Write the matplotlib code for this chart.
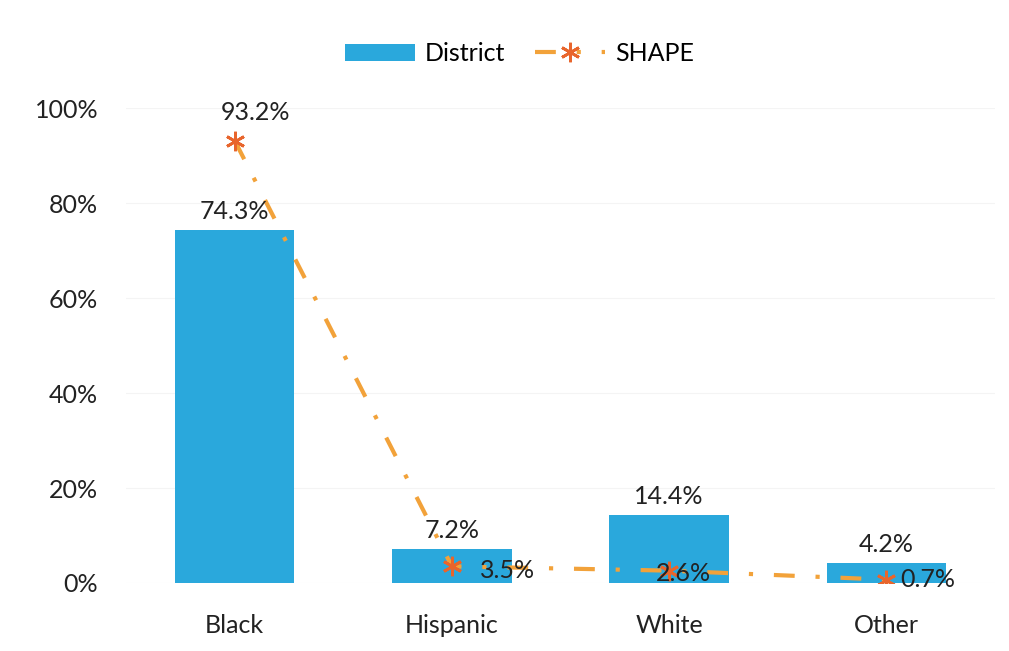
import matplotlib as mpl
mpl.use('Agg')
import matplotlib.pyplot as plt
from matplotlib.ticker import PercentFormatter

categories = ['Black', 'Hispanic', 'White', 'Other']
district = [74.3, 7.2, 14.4, 4.2]
shape = [93.2, 3.5, 2.6, 0.7]

bar_color = '#2aa8dc'
line_color = '#f2a23a'
marker_color = '#e8652c'

plt.rcParams['font.family'] = ['Lato', 'DejaVu Sans']

fig = plt.figure(figsize=(10.09, 6.51), dpi=100)
ax = fig.add_axes([0.125, 0.1045, 0.861, 0.729])

x = list(range(len(categories)))
bars = ax.bar(x, district, width=0.55, color=bar_color, label='District', zorder=2)
line, = ax.plot(x, shape, color=line_color, lw=3, linestyle=(0, (5, 5, 1, 5)),
                marker=(6, 2, 0), markersize=14, markeredgewidth=2,
                markeredgecolor=marker_color, label='SHAPE', zorder=3)

# bar labels
for xi, v in zip(x, district):
    ax.annotate(f'{v}%', (xi, v), xytext=(0, 5), textcoords='offset points',
                ha='center', va='bottom', fontsize=18, color='#222222')

# line labels
offsets = [(15, 12, 'center', 'bottom'), (40, -3, 'center', 'center'),
           (10, -2, 'center', 'center'), (30, 0, 'center', 'center')]
for xi, v, (dx, dy, ha, va) in zip(x, shape, offsets):
    ax.annotate(f'{v}%', (xi, v), xytext=(dx, dy), textcoords='offset points',
                ha=ha, va=va, fontsize=18, color='#222222', zorder=4)

ax.set_xlim(-0.5, 3.5)
ax.set_ylim(0, 100)
ax.set_yticks([0, 20, 40, 60, 80, 100])
ax.yaxis.set_major_formatter(PercentFormatter(decimals=0))
ax.set_xticks(x)
ax.set_xticklabels(categories)
ax.tick_params(axis='both', length=0, labelsize=18, colors='#222222')
ax.tick_params(axis='x', pad=22)
ax.tick_params(axis='y', pad=20)
ax.grid(axis='y', color='#f4f4f4', lw=0.8, zorder=0)
for s in ax.spines.values():
    s.set_visible(False)

fig.legend([bars, line], ['District', 'SHAPE'], loc='upper center',
           bbox_to_anchor=(0.515, 0.97), ncol=2, frameon=False,
           fontsize=18, handlelength=2.8, columnspacing=1.2, handletextpad=0.4)

plt.savefig('out.png')
